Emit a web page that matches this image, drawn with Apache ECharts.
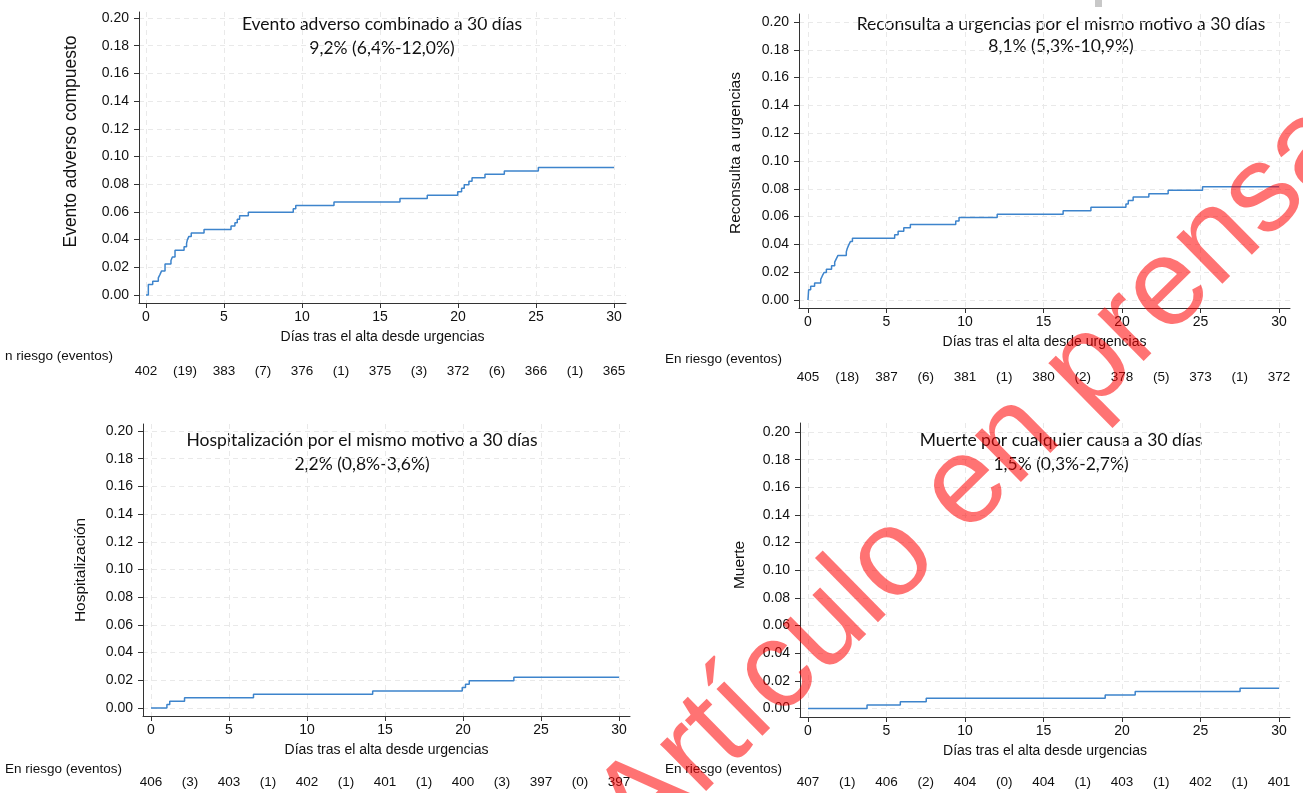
<!DOCTYPE html>
<html>
<head>
<meta charset="utf-8">
<script src="https://cdn.jsdelivr.net/npm/echarts@6/dist/echarts.min.js"></script>
<style>
  html, body { margin: 0; padding: 0; background: #fff; }
  #chart { width: 1303px; height: 793px; }
</style>
</head>
<body>
<div id="chart"></div>
<script>
// ---- data ----
const xTicks = [0, 5, 10, 15, 20, 25, 30];
const yTicks = [0, 0.02, 0.04, 0.06, 0.08, 0.10, 0.12, 0.14, 0.16, 0.18, 0.20];
const riskTicks = [0, 2.5, 5, 7.5, 10, 12.5, 15, 17.5, 20, 22.5, 25, 27.5, 30];

// Evento adverso combinado
const dias1 = [0, 0.15, 0.43, 0.79, 0.9, 1.0, 1.22, 1.6, 1.69, 1.86, 2.44, 2.6, 2.65, 2.75, 2.9, 3.72, 5.45, 5.7, 5.85, 6.0, 6.56, 9.44, 9.6, 12.05, 16.28, 18.03, 19.98, 20.23, 20.4, 20.7, 20.9, 21.73, 22.97, 25.15, 30];
const inc1 = [0, 0.0075, 0.0100, 0.0124, 0.0149, 0.0174, 0.0224, 0.0249, 0.0274, 0.0323, 0.0348, 0.0373, 0.0398, 0.0423, 0.0448, 0.0473, 0.0498, 0.0522, 0.0547, 0.0572, 0.0597, 0.0622, 0.0647, 0.0672, 0.0697, 0.0721, 0.0746, 0.0771, 0.0796, 0.0821, 0.0846, 0.0871, 0.0896, 0.0920, 0.0920];
const riesgo1 = [402, 383, 376, 375, 372, 366, 365];
const eventos1 = [19, 7, 1, 3, 6, 1];

// Reconsulta a urgencias
const dias2 = [0, 0.04, 0.17, 0.42, 0.81, 0.91, 1.02, 1.17, 1.5, 1.7, 1.8, 1.91, 2.44, 2.5, 2.59, 2.7, 2.83, 5.52, 5.74, 6.1, 6.52, 9.41, 9.62, 12.05, 16.25, 18.02, 20.25, 20.4, 20.71, 21.71, 22.94, 25.13, 30];
const inc2 = [0, 0.0074, 0.0099, 0.0123, 0.0148, 0.0173, 0.0198, 0.0222, 0.0247, 0.0272, 0.0296, 0.0321, 0.0346, 0.0370, 0.0395, 0.0420, 0.0444, 0.0469, 0.0494, 0.0519, 0.0543, 0.0568, 0.0593, 0.0617, 0.0642, 0.0667, 0.0691, 0.0716, 0.0741, 0.0765, 0.0790, 0.0815, 0.0815];
const riesgo2 = [405, 387, 381, 380, 378, 373, 372];
const eventos2 = [18, 6, 1, 2, 5, 1];

// Hospitalización
const dias3 = [0, 1.02, 1.2, 2.15, 6.57, 14.21, 19.95, 20.16, 20.4, 23.26, 30];
const inc3 = [0, 0.0025, 0.0049, 0.0074, 0.0099, 0.0123, 0.0148, 0.0172, 0.0197, 0.0222, 0.0222];
const riesgo3 = [406, 403, 402, 401, 400, 397, 397];
const eventos3 = [3, 1, 1, 1, 3, 0];

// Muerte
const dias4 = [0, 3.76, 5.88, 7.53, 18.93, 20.84, 27.52, 30];
const inc4 = [0, 0.0025, 0.0049, 0.0074, 0.0098, 0.0123, 0.0147, 0.0147];
const riesgo4 = [407, 406, 404, 404, 403, 402, 401];
const eventos4 = [1, 2, 0, 1, 1, 1];

const yNames = ['Evento adverso compuesto', 'Reconsulta a urgencias', 'Hospitalización', 'Muerte'];
const titles = [
  ['Evento adverso combinado a 30 días', '9,2% (6,4%-12,0%)'],
  ['Reconsulta a urgencias por el mismo motivo a 30 días', '8,1% (5,3%-10,9%)'],
  ['Hospitalización por el mismo motivo a 30 días', '2,2% (0,8%-3,6%)'],
  ['Muerte por cualquier causa a 30 días', '1,5% (0,3%-2,7%)']
];
const riskLabels = ['n riesgo (eventos)', 'En riesgo (eventos)', 'En riesgo (eventos)', 'En riesgo (eventos)'];
const xName = 'Días tras el alta desde urgencias';

// ---- layout (pixels) ----
const layout = [
  { axisX: 139, x0: 146, x30: 614, right: 626, top: 12, y20: 18, y0: 295, bottom: 303,
    yNameX: 70, yNameShift: 16, yNameSize: 17.5, riskY: 372, riskLabel: [5, 356], title: [382, 24, 48] },
  { axisX: 799, x0: 808, x30: 1279, right: 1290, top: 14, y20: 22, y0: 300, bottom: 308,
    yNameX: 735, yNameShift: 8, yNameSize: 15.5, riskY: 378, riskLabel: [665, 359], title: [1061, 24, 46] },
  { axisX: 143, x0: 151, x30: 619, right: 630, top: 424, y20: 431, y0: 708, bottom: 716,
    yNameX: 80, yNameShift: 0, yNameSize: 15.5, riskY: 783, riskLabel: [5, 769], title: [362, 440, 464] },
  { axisX: 800, x0: 808, x30: 1279, right: 1290, top: 423, y20: 432, y0: 708.5, bottom: 717,
    yNameX: 739, yNameShift: 5, yNameSize: 15.5, riskY: 783, riskLabel: [665, 769], title: [1061, 440, 464] }
];

const series = [[dias1, inc1], [dias2, inc2], [dias3, inc3], [dias4, inc4]];
const riesgo = [riesgo1, riesgo2, riesgo3, riesgo4];
const eventos = [eventos1, eventos2, eventos3, eventos4];

const FONT = "'Liberation Sans', Arial, Helvetica, sans-serif";
const TITLE_FONT = "Lato, 'Open Sans', sans-serif";
const axisColor = '#333';
const gridLine = { show: true, lineStyle: { color: '#e9e9e9', type: [5, 4], width: 1 } };

const grids = [], xAxes = [], yAxes = [], lines = [], graphics = [];

layout.forEach((p, i) => {
  const pxDay = (p.x30 - p.x0) / 30;
  const pxVal = (p.y0 - p.y20) / 0.2;
  grids.push({ left: p.axisX, top: p.top, width: p.right - p.axisX, height: p.bottom - p.top });

  const xMin = -(p.x0 - p.axisX) / pxDay;
  const xMax = 30 + (p.right - p.x30) / pxDay;

  xAxes.push({
    gridIndex: i, type: 'value', min: xMin, max: xMax,
    axisLine: { show: true, onZero: false, lineStyle: { color: axisColor } },
    axisTick: { show: true, length: 5, customValues: xTicks, lineStyle: { color: axisColor } },
    axisLabel: { customValues: xTicks, margin: 7, fontFamily: FONT, fontSize: 14, color: '#111',
      formatter: v => String(v) },
    splitLine: gridLine,
    name: xName, nameLocation: 'middle', nameGap: 27,
    nameTextStyle: { fontFamily: FONT, fontSize: 14, color: '#111' }
  });
  // at-risk row, drawn as a label-only axis under the plot
  xAxes.push({
    gridIndex: i, type: 'value', min: xMin, max: xMax, position: 'bottom',
    offset: p.riskY - 8 - p.bottom,
    axisLine: { show: false }, axisTick: { show: false }, splitLine: { show: false },
    axisLabel: { customValues: riskTicks, margin: 0, fontFamily: FONT, fontSize: 13.5, color: '#111',
      formatter: v => {
        const k = Math.round(v * 2);
        return k % 10 === 0 ? String(riesgo[i][k / 10]) : '(' + eventos[i][(k - 5) / 10] + ')';
      } }
  });

  yAxes.push({
    gridIndex: i, type: 'value',
    min: -(p.bottom - p.y0) / pxVal, max: 0.2 + (p.y20 - p.top) / pxVal,
    axisLine: { show: true, onZero: false, lineStyle: { color: axisColor } },
    axisTick: { show: true, length: 5, customValues: yTicks, lineStyle: { color: axisColor } },
    axisLabel: { customValues: yTicks, margin: 10, fontFamily: FONT, fontSize: 14, color: '#111',
      formatter: v => v.toFixed(2) },
    splitLine: gridLine,
    name: yNames[i], nameLocation: 'middle', nameGap: p.axisX - p.yNameX - p.yNameSize / 2 - 1,
    nameTextStyle: { fontFamily: FONT, fontSize: p.yNameSize, color: '#111',
      padding: [0, 0, 0, 2 * p.yNameShift] }
  });

  lines.push({
    type: 'line', xAxisIndex: 2 * i, yAxisIndex: i,
    data: series[i][0].map((d, j) => [d, series[i][1][j]]),
    step: 'end', symbol: 'none', silent: true,
    lineStyle: { color: '#3d84cc', width: 1.5 }
  });

  graphics.push(
    { type: 'text', x: p.title[0], y: p.title[1],
      style: { text: titles[i][0], font: '17.5px ' + TITLE_FONT, fill: '#111',
        textAlign: 'center', textVerticalAlign: 'middle' } },
    { type: 'text', x: p.title[0], y: p.title[2],
      style: { text: titles[i][1], font: '17.5px ' + TITLE_FONT, fill: '#111',
        textAlign: 'center', textVerticalAlign: 'middle' } },
    { type: 'text', left: p.riskLabel[0], top: p.riskLabel[1] - 7,
      style: { text: riskLabels[i], font: '13.5px ' + FONT, fill: '#111' } }
  );
});

// watermark on top
graphics.push({
  type: 'text', x: 976, y: 478, rotation: 44.5 * Math.PI / 180, z: 100,
  style: { text: 'Artículo en prensa', font: '124px ' + FONT, fill: 'rgba(255,0,0,0.55)',
    textAlign: 'center', textVerticalAlign: 'middle' }
});
graphics.push({ type: 'rect', shape: { x: 1095, y: 0, width: 7, height: 7 }, style: { fill: '#c8c8c8' } });

const chart = echarts.init(document.getElementById('chart'));
chart.setOption({
  animation: false,
  backgroundColor: '#fff',
  grid: grids,
  xAxis: xAxes,
  yAxis: yAxes,
  series: lines,
  graphic: graphics
});
</script>
</body>
</html>
